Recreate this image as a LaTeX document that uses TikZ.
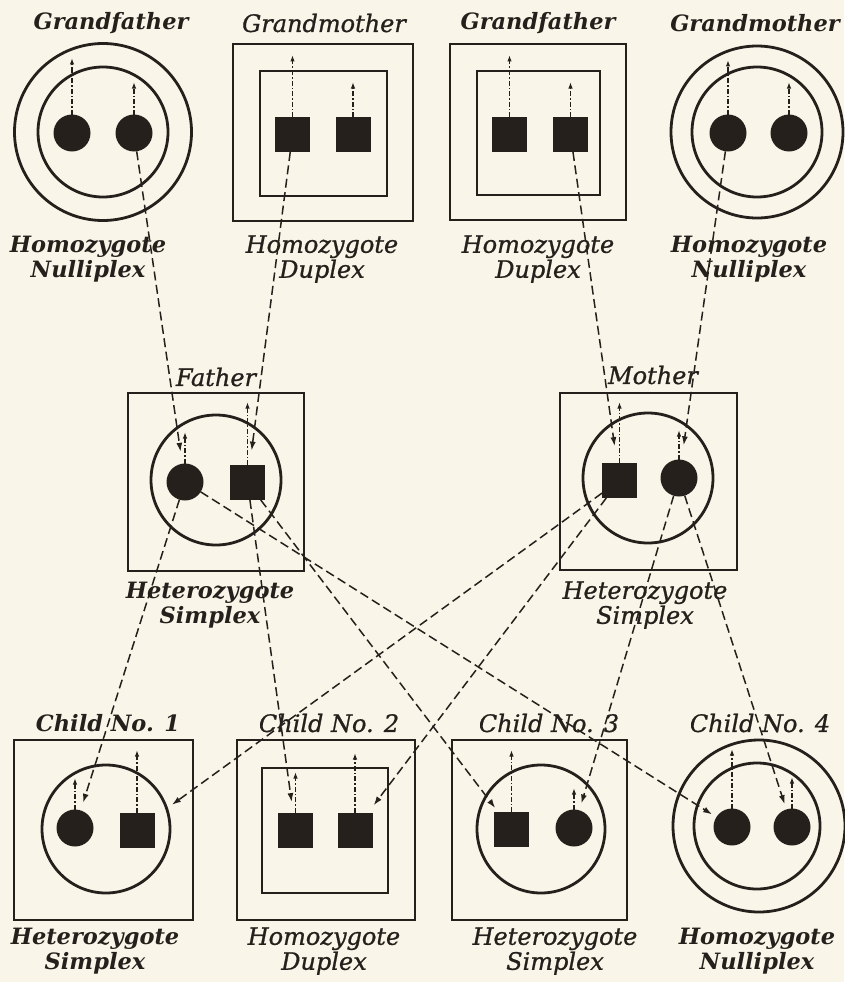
\documentclass[tikz,border=0pt]{standalone}
\usepackage{fontspec}
\setmainfont{DejaVu Serif}
\newfontfamily\medserif{DejaVu Serif}[ItalicFeatures={FakeBold=0.9}]
\usetikzlibrary{arrows.meta}
\definecolor{paper}{RGB}{250,245,233}
\definecolor{ink}{RGB}{38,32,28}
\begin{document}
\begin{tikzpicture}[x=1pt,y=-1pt,
  shell/.style={draw=ink, line width=2.8pt, inner sep=0pt, outer sep=0pt},
  ocirc/.style={shell, circle, minimum size=#1},
  osq/.style 2 args={shell, rectangle, minimum width=#1, minimum height=#2},
  dotal/.style={circle, fill=ink, minimum size=37pt, inner sep=0pt, outer sep=0pt},
  sqal/.style={rectangle, fill=ink, minimum size=35pt, inner sep=0pt, outer sep=0pt},
  conn/.style={draw=ink, line width=1.5pt, dash pattern=on 9pt off 4.5pt, -{Latex[length=9pt,width=6pt]}},
  upar/.style={draw=ink, line width=1.3pt, dash pattern=on 5pt off 2pt on 1.5pt off 2pt, -{Latex[length=6.5pt,width=4.5pt]}},
  lab/.style={font=\medserif\fontsize{24}{25}\selectfont\itshape, text=ink, align=center, inner sep=0pt},
  blab/.style={lab, font=\fontsize{22.5}{25}\selectfont\bfseries\itshape}
]
\fill[paper] (0,0) rectangle (844,982);
\useasboundingbox (0,0) rectangle (844,982);

% ---- top row
\node[ocirc=177pt] (gf1o) at (103,132) {};
\node[ocirc=130pt] (gf1i) at (103,132) {};
\node[dotal] (gf1a) at (72,133) {};
\node[dotal] (gf1b) at (134,133) {};

\node[osq={180pt}{177pt}] (gm1o) at (323,132.5) {};
\node[osq={127pt}{125pt}] (gm1i) at (323.5,133.5) {};
\node[sqal] (gm1a) at (292.5,134.5) {};
\node[sqal] (gm1b) at (353,134.5) {};

\node[osq={176pt}{176pt}] (gf2o) at (538,132) {};
\node[osq={123pt}{124pt}] (gf2i) at (538.5,133) {};
\node[sqal] (gf2a) at (509.5,134.5) {};
\node[sqal] (gf2b) at (570.5,134.5) {};

\node[ocirc=172pt] (gm2o) at (757,132) {};
\node[ocirc=130pt] (gm2i) at (757,132) {};
\node[dotal] (gm2a) at (728,133) {};
\node[dotal] (gm2b) at (789,133) {};

% ---- parents
\node[osq={176pt}{178pt}] (fo) at (216,482) {};
\node[ocirc=130pt] (fi) at (216,480) {};
\node[dotal] (fa) at (185,482) {};
\node[sqal] (fb) at (247.5,482.5) {};

\node[osq={177pt}{177pt}] (mo) at (648.5,481.5) {};
\node[ocirc=130pt] (mi) at (648,478) {};
\node[sqal] (ma) at (619.5,480.5) {};
\node[dotal] (mb) at (679,478) {};

% ---- children
\node[osq={179pt}{180pt}] (c1o) at (103.5,830) {};
\node[ocirc=128pt] (c1i) at (106,829) {};
\node[dotal] (c1a) at (75,828) {};
\node[sqal] (c1b) at (137,830) {};

\node[osq={178pt}{180pt}] (c2o) at (326,830) {};
\node[osq={126pt}{125pt}] (c2i) at (325,830.5) {};
\node[sqal] (c2a) at (295.5,830) {};
\node[sqal] (c2b) at (355,830) {};

\node[osq={175pt}{180pt}] (c3o) at (539.5,830) {};
\node[ocirc=128pt] (c3i) at (541,829) {};
\node[sqal] (c3a) at (511.5,829.5) {};
\node[dotal] (c3b) at (574,828) {};

\node[ocirc=172pt] (c4o) at (759,826) {};
\node[ocirc=126pt] (c4i) at (757,826) {};
\node[dotal] (c4a) at (732,827) {};
\node[dotal] (c4b) at (792,827) {};

% ---- labels
\node[blab] (gf1h) at (111,23) {Grandfather};
\node[lab]  (gm1h) at (324,23) {Grandmother};
\node[blab] (gf2h) at (538,23) {Grandfather};
\node[blab] (gm2h) at (755,23) {Grandmother};

\node[blab] (gf1d) at (88,259) {Homozygote\\Nulliplex};
\node[lab]  (gm1d) at (322,259) {Homozygote\\Duplex};
\node[lab]  (gf2d) at (538,259) {Homozygote\\Duplex};
\node[blab] (gm2d) at (749,259) {Homozygote\\Nulliplex};

\node[lab] (fh) at (216,377) {Father};
\node[lab] (mh) at (653,375) {Mother};
\node[blab] (fd) at (210,605) {Heterozygote\\Simplex};
\node[lab]  (md) at (645,605) {Heterozygote\\Simplex};

\node[blab] (c1h) at (108,723) {Child No. 1};
\node[lab]  (c2h) at (329,723) {Child No. 2};
\node[lab]  (c3h) at (549,723) {Child No. 3};
\node[lab]  (c4h) at (760,723) {Child No. 4};

\node[blab] (c1d) at (95,951) {Heterozygote\\Simplex};
\node[lab]  (c2d) at (324,951) {Homozygote\\Duplex};
\node[lab]  (c3d) at (555,951) {Heterozygote\\Simplex};
\node[blab] (c4d) at (757,951) {Homozygote\\Nulliplex};

% ---- up arrows (allele to shell)
\draw[upar, shorten >=14.5pt] (gf1a.north) -- (gf1a.north |- gf1o.north);
\draw[upar, shorten >=15pt]   (gf1b.north) -- (gf1b.north |- gf1i.north);
\draw[upar, shorten >=11pt]   (gm1a.north) -- (gm1a.north |- gm1o.north);
\draw[upar, shorten >=11pt]   (gm1b.north) -- (gm1b.north |- gm1i.north);
\draw[upar, shorten >=11pt]   (gf2a.north) -- (gf2a.north |- gf2o.north);
\draw[upar, shorten >=11pt]   (gf2b.north) -- (gf2b.north |- gf2i.north);
\draw[upar, shorten >=14pt]   (gm2a.north) -- (gm2a.north |- gm2o.north);
\draw[upar, shorten >=15pt]   (gm2b.north) -- (gm2b.north |- gm2i.north);
\draw[upar, shorten >=17pt]   (fa.north) -- (fa.north |- fi.north);
\draw[upar, shorten >=9pt]    (fb.north) -- (fb.north |- fo.north);
\draw[upar, shorten >=9pt]    (ma.north) -- (ma.north |- mo.north);
\draw[upar, shorten >=17pt]   (mb.north) -- (mb.north |- mi.north);
\draw[upar, shorten >=13pt]   (c1a.north) -- (c1a.north |- c1i.north);
\draw[upar, shorten >=10pt]   (c1b.north) -- (c1b.north |- c1o.north);
\draw[upar, shorten >=4pt]    (c2a.north) -- (c2a.north |- c2i.north);
\draw[upar, shorten >=13pt]   (c2b.north) -- (c2b.north |- c2o.north);
\draw[upar, shorten >=10pt]   (c3a.north) -- (c3a.north |- c3o.north);
\draw[upar, shorten >=23pt]   (c3b.north) -- (c3b.north |- c3i.north);
\draw[upar, shorten >=9pt]    (c4a.north) -- (c4a.north |- c4o.north);
\draw[upar, shorten >=14pt]   (c4b.north) -- (c4b.north |- c4i.north);

% ---- inheritance connectors
\draw[conn, shorten >=12pt]   (gf1b) -- (fa);
\draw[conn, shorten >=14.5pt] (gm1a) -- (fb);
\draw[conn, shorten >=17pt]   (gf2b) -- (ma);
\draw[conn, shorten >=14.5pt] (gm2a) -- (mb);
\draw[conn, shorten >=8pt]    (fa) -- (c1a);
\draw[conn, shorten >=5pt]    (fa) -- (c4a);
\draw[conn, shorten >=10.5pt] (fb) -- (c2a);
\draw[conn, shorten >=5pt]    (fb) -- (c3a);
\draw[conn, shorten >=21.5pt] (ma) -- (c1b);
\draw[conn, shorten >=9pt]    (ma) -- (c2b);
\draw[conn, shorten >=7pt]    (mb) -- (c3b);
\draw[conn, shorten >=5.5pt]  (mb) -- (c4b);
\end{tikzpicture}
\end{document}
